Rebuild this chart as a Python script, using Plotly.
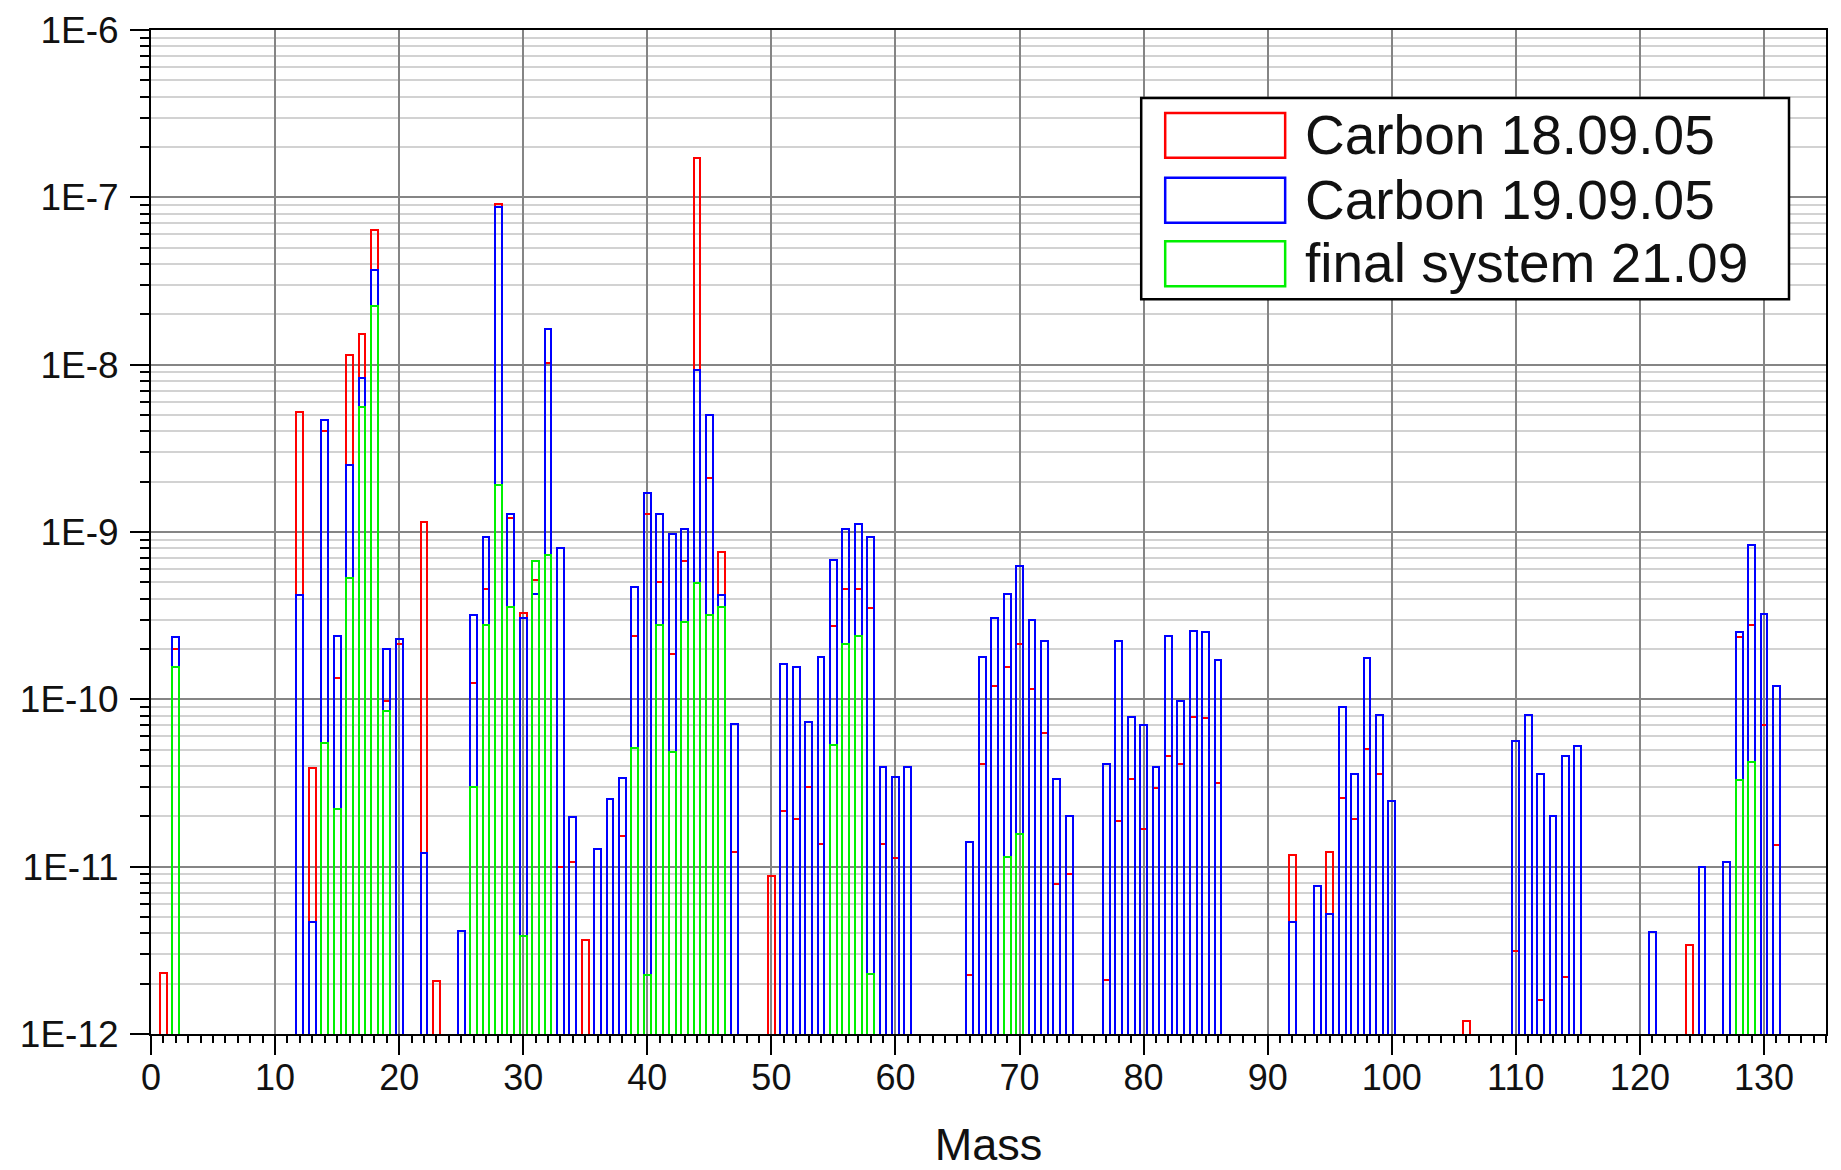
import plotly.graph_objects as go

# ---------------- data ----------------
mass = [1, 2, 12, 13, 14, 15, 16, 17, 18, 19, 20, 22, 23, 25, 26, 27, 28, 29, 30, 31,
        32, 33, 34, 35, 36, 37, 38, 39, 40, 41, 42, 43, 44, 45, 46, 47, 50, 51, 52, 53,
        54, 55, 56, 57, 58, 59, 60, 61, 66, 67, 68, 69, 70, 71, 72, 73, 74, 77, 78, 79,
        80, 81, 82, 83, 84, 85, 86, 92, 94, 95, 96, 97, 98, 99, 100, 106, 110, 111, 112, 113,
        114, 115, 121, 124, 125, 127, 128, 129, 130, 131]

carbon_18_09 = [2.3e-12, 2.0e-10, 5.2e-9, 3.9e-11, 4.0e-9, 1.35e-10, 1.14e-8, 1.52e-8, 6.35e-8, 9.8e-11,
                2.14e-10, 1.15e-9, 2.06e-12, None, 1.26e-10, 4.55e-10, 9.1e-8, 1.22e-9, 3.3e-10, 5.2e-10,
                1.02e-8, 9.9e-12, 1.07e-11, 3.66e-12, None, None, 1.52e-11, 2.39e-10, 1.28e-9, 5.05e-10,
                1.86e-10, 6.75e-10, 1.73e-7, 2.11e-9, 7.57e-10, 1.23e-11, 8.8e-12, 2.15e-11, 1.93e-11, 2.99e-11,
                1.36e-11, 2.73e-10, 4.54e-10, 4.54e-10, 3.52e-10, 1.36e-11, 1.13e-11, None, 2.25e-12, 4.11e-11,
                1.2e-10, 1.56e-10, 2.14e-10, 1.16e-10, 6.28e-11, 7.9e-12, 9.1e-12, 2.09e-12, 1.88e-11, 3.33e-11,
                1.68e-11, 2.97e-11, 4.58e-11, 4.1e-11, 7.8e-11, 7.75e-11, 3.17e-11, 1.18e-11, None, 1.22e-11,
                2.57e-11, 1.93e-11, 5.08e-11, 3.56e-11, None, 1.2e-12, 3.12e-12, None, 1.59e-12, None,
                2.19e-12, None, None, 3.4e-12, None, None, 2.35e-10, 2.8e-10, 7.0e-11, 1.35e-11]

carbon_19_09 = [None, 2.35e-10, 4.2e-10, 4.7e-12, 4.67e-9, 2.4e-10, 2.5e-9, 8.3e-9, 3.7e-8, 2.0e-10,
                2.3e-10, 1.2e-11, None, 4.1e-12, 3.2e-10, 9.3e-10, 8.75e-8, 1.28e-9, 3.08e-10, 4.25e-10,
                1.64e-8, 8.05e-10, 1.97e-11, None, 1.28e-11, 2.53e-11, 3.37e-11, 4.71e-10, 1.72e-9, 1.28e-9,
                9.7e-10, 1.04e-9, 9.27e-9, 5.0e-9, 4.2e-10, 7.1e-11, None, 1.62e-10, 1.56e-10, 7.3e-11,
                1.79e-10, 6.78e-10, 1.04e-9, 1.11e-9, 9.3e-10, 3.96e-11, 3.44e-11, 3.96e-11, 1.41e-11, 1.79e-10,
                3.08e-10, 4.26e-10, 6.28e-10, 2.96e-10, 2.23e-10, 3.33e-11, 2.01e-11, 4.11e-11, 2.23e-10, 7.85e-11,
                7.06e-11, 3.95e-11, 2.38e-10, 9.75e-11, 2.55e-10, 2.54e-10, 1.71e-10, 4.69e-12, 7.71e-12, 5.22e-12,
                8.97e-11, 3.56e-11, 1.77e-10, 8.1e-11, 2.48e-11, None, 5.64e-11, 8.1e-11, 3.56e-11, 2.01e-11,
                4.56e-11, 5.27e-11, 4.05e-12, None, 9.9e-12, 1.06e-11, 2.54e-10, 8.4e-10, 3.24e-10, 1.2e-10]

final_21_09 = [None, 1.55e-10, None, None, 5.5e-11, 2.2e-11, 5.3e-10, 5.6e-9, 2.25e-8, 8.5e-11,
               None, None, None, None, 3.0e-11, 2.77e-10, 1.91e-9, 3.56e-10, 3.84e-12, 6.75e-10,
               7.3e-10, None, None, None, None, None, None, 5.15e-11, 2.24e-12, 2.77e-10,
               4.84e-11, 2.88e-10, 4.94e-10, 3.2e-10, 3.56e-10, None, None, None, None, None,
               None, 5.3e-11, 2.15e-10, 2.39e-10, 2.28e-12, None, None, None, None, None,
               None, 1.15e-11, 1.57e-11, None, None, None, None, None, None, None,
               None, None, None, None, None, None, None, None, None, None,
               None, None, None, None, None, None, None, None, None, None,
               None, None, None, None, None, None, 3.31e-11, 4.25e-11, None, None]

series_names = ["Carbon 18.09.05", "Carbon 19.09.05", "final system 21.09"]
series_colors = ["#ff0000", "#0000ff", "#00f000"]

y_tick_vals = [1e-12, 1e-11, 1e-10, 1e-9, 1e-8, 1e-7, 1e-6]
y_tick_text = ["1E-12", "1E-11", "1E-10", "1E-9", "1E-8", "1E-7", "1E-6"]
x_tick_vals = [0, 10, 20, 30, 40, 50, 60, 70, 80, 90, 100, 110, 120, 130]
y_minor_vals = [k * 10.0 ** e for e in range(-12, -6) for k in range(2, 10)]

# ---------------- layout geometry (pixels) ----------------
W, H = 1841, 1170
L, R, T, B = 150.5, 1826, 29.5, 1034.5
FONT = "Liberation Sans, Arial, sans-serif"


def px(x):
    return (x - L) / (R - L)


def py(y):
    return (B - y) / (B - T)


fig = go.Figure()
for name, color, vals in zip(series_names, series_colors, [carbon_18_09, carbon_19_09, final_21_09]):
    fig.add_trace(go.Bar(
        x=mass, y=vals, name=name, width=0.55,
        marker=dict(color="rgba(0,0,0,0)", line=dict(color=color, width=2)),
        showlegend=False,
    ))

# manual legend (large outlined swatches as in the reference)
shapes = [dict(type="rect", xref="paper", yref="paper",
               x0=px(1141), x1=px(1789), y0=py(299), y1=py(97.5),
               line=dict(color="black", width=2.5), fillcolor="white", layer="above")]
annotations = []
row_tops = [112.5, 177.5, 241.0]
for name, color, top in zip(series_names, series_colors, row_tops):
    shapes.append(dict(type="rect", xref="paper", yref="paper",
                       x0=px(1165), x1=px(1285), y0=py(top + 45), y1=py(top),
                       line=dict(color=color, width=2.5), fillcolor="rgba(0,0,0,0)", layer="above"))
    annotations.append(dict(xref="paper", yref="paper", x=px(1303), y=py(top + 22),
                            text=name, showarrow=False, xanchor="left", yanchor="middle",
                            font=dict(family=FONT, size=55, color="#111111")))

fig.update_layout(
    width=W, height=H,
    margin=dict(l=L, r=W - R, t=T, b=H - B, pad=0, autoexpand=False),
    paper_bgcolor="white", plot_bgcolor="white",
    barmode="overlay", bargap=0,
    font=dict(family=FONT, color="#111111"),
    shapes=shapes, annotations=annotations,
    xaxis=dict(
        range=[0, 135], tickmode="array", tickvals=x_tick_vals, automargin=False,
        ticks="outside", ticklen=19, tickwidth=2, tickcolor="black",
        tickfont=dict(size=36, family=FONT, color="#111111"),
        ticklabelstandoff=-8,
        showgrid=True, gridcolor="#858585", gridwidth=2,
        showline=True, linecolor="black", linewidth=2, mirror=True,
        zeroline=False,
        minor=dict(dtick=1, tick0=0, ticks="outside", ticklen=7, tickwidth=2,
                   tickcolor="black", showgrid=False),
        title=dict(text="Mass", font=dict(size=45, family=FONT, color="#111111"), standoff=42),
    ),
    yaxis=dict(
        type="log", range=[-12, -6], tickmode="array", automargin=False,
        tickvals=y_tick_vals, ticktext=y_tick_text,
        ticks="outside", ticklen=19, tickwidth=2, tickcolor="black",
        tickfont=dict(size=37, family=FONT, color="#111111"),
        ticklabelstandoff=4,
        showgrid=True, gridcolor="#858585", gridwidth=2,
        showline=True, linecolor="black", linewidth=2, mirror=True,
        zeroline=False,
        minor=dict(tickmode="array", tickvals=y_minor_vals, ticks="outside", ticklen=9,
                   tickwidth=2, tickcolor="black", showgrid=True,
                   gridcolor="#d2d2d2", gridwidth=2),
    ),
)

fig.write_html("out.html")
